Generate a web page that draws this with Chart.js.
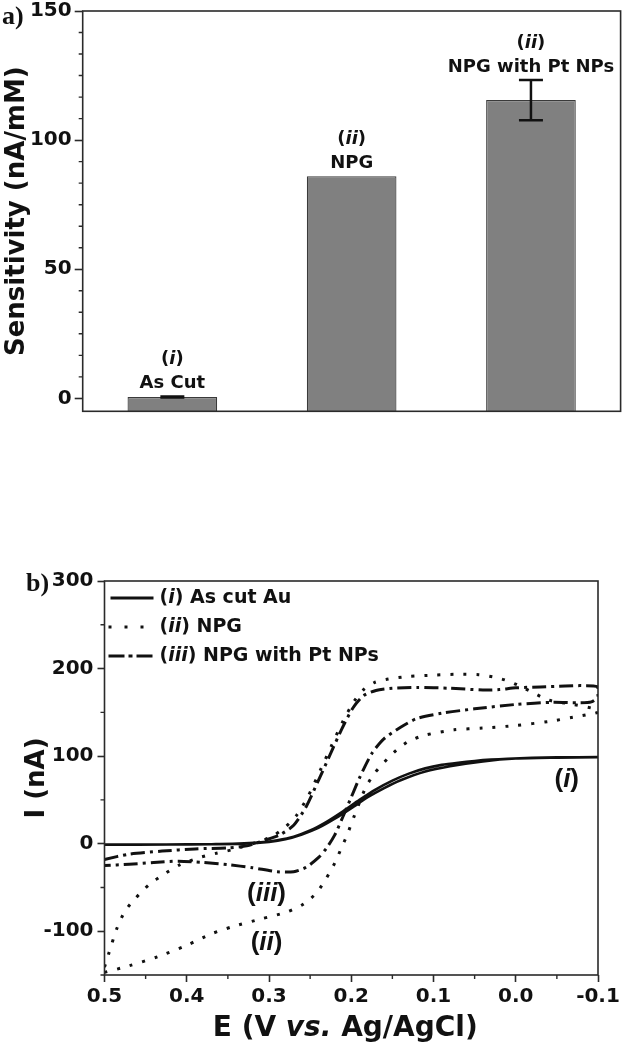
<!DOCTYPE html>
<html>
<head>
<meta charset="utf-8">
<script src="https://cdn.jsdelivr.net/npm/chart.js@4.4.1/dist/chart.umd.min.js"></script>
<style>
  html, body { margin: 0; padding: 0; background: #fff; }
  body { width: 623px; height: 1050px; position: relative; overflow: hidden; }
  .panel { position: absolute; left: 0; width: 623px; }
  #panelA { top: 0; height: 440px; }
  #panelB { top: 540px; height: 510px; }
</style>
</head>
<body>
<div class="panel" id="panelA"><canvas id="chartA"></canvas></div>
<div class="panel" id="panelB"><canvas id="chartB"></canvas></div>
<script>
// panel a - sensitivity of the three electrodes
const groups = ['As Cut', 'NPG', 'NPG with Pt NPs'];
const groupTags = ['i', 'ii', 'ii'];
const sensitivity = [0.5, 86, 115.5];
const sensError = [0.2, 0, 7.8];
const sensTicks = [0, 50, 100, 150];

// panel b - cyclic voltammograms, forward sweep then reverse sweep
const E_i_fwd = [0.50, 0.45, 0.40, 0.36, 0.33, 0.31, 0.29, 0.27, 0.25, 0.23, 0.21, 0.19, 0.17, 0.15, 0.13, 0.11, 0.09, 0.07, 0.05, 0.03, 0.01, -0.02, -0.05, -0.10];
const I_i_fwd = [-1.0, -1.0, -0.8, -0.5, 0.3, 1.5, 4, 8, 15, 25, 37, 50, 62, 72, 80, 86, 90, 92.5, 94.5, 96, 97, 98, 98.5, 98.8];
const E_i_rev = [-0.10, -0.05, 0.00, 0.04, 0.08, 0.11, 0.14, 0.16, 0.18, 0.20, 0.22, 0.24, 0.26, 0.28, 0.30, 0.33, 0.37, 0.42, 0.50];
const I_i_rev = [98.7, 98.2, 97.2, 94, 88.5, 82.5, 72.5, 63.5, 53, 40.5, 28.5, 18, 10.5, 5, 2, 0, -0.6, -0.9, -1.2];

const E_ii_fwd = [0.500, 0.495, 0.485, 0.475, 0.462, 0.446, 0.428, 0.408, 0.385, 0.364, 0.345, 0.327, 0.310, 0.295, 0.280, 0.266, 0.252, 0.238, 0.224, 0.210, 0.197, 0.185, 0.172, 0.155, 0.130, 0.100, 0.070, 0.045, 0.025, 0.010, -0.005, -0.020, -0.040, -0.070, -0.100];
const I_ii_fwd = [-141, -126, -97, -77, -62, -47, -35, -24, -16, -11, -7, -2, 3, 9, 19, 33, 55, 83, 112, 140, 162, 176, 184, 188, 191, 192.5, 193.5, 193, 190, 186, 180, 173, 164, 159, 153];
const E_ii_rev = [-0.100, -0.085, -0.070, -0.040, 0.000, 0.040, 0.075, 0.110, 0.130, 0.145, 0.160, 0.172, 0.182, 0.190, 0.197, 0.205, 0.212, 0.220, 0.230, 0.242, 0.258, 0.278, 0.310, 0.345, 0.370, 0.400, 0.435, 0.470, 0.500];
const I_ii_rev = [150, 147, 144.5, 139.5, 135, 132, 130, 124, 117, 107, 93, 80, 65, 47, 30, 10, -5, -22, -39, -56, -69, -78, -86, -95, -103, -116, -129, -139.5, -147];

const E_iii_fwd = [0.500, 0.470, 0.430, 0.390, 0.350, 0.327, 0.305, 0.287, 0.270, 0.255, 0.240, 0.226, 0.212, 0.198, 0.185, 0.170, 0.150, 0.120, 0.080, 0.040, 0.020, 0.000, -0.030, -0.060, -0.080, -0.100];
const I_iii_fwd = [-18, -12, -8.5, -6, -4.8, -2.5, 4, 10, 21, 42, 72, 101, 130, 155, 169, 175, 177.5, 178.5, 177.5, 175.5, 176, 178, 179, 180, 180.5, 179];
const E_iii_rev = [-0.100, -0.092, -0.075, -0.045, 0.000, 0.050, 0.090, 0.120, 0.140, 0.160, 0.175, 0.190, 0.200, 0.210, 0.220, 0.230, 0.240, 0.255, 0.270, 0.290, 0.320, 0.350, 0.380, 0.410, 0.440, 0.470, 0.500];
const I_iii_rev = [168, 162, 161, 161.5, 159, 154, 149, 143, 133, 120, 103, 75, 53, 31, 10, -5, -16, -27, -32, -32, -27.5, -24, -21.5, -20, -21.5, -23.5, -25];

const currentTicks = [-100, 0, 100, 200, 300];
const potentialTicks = [0.5, 0.4, 0.3, 0.2, 0.1, 0.0, -0.1];
const seriesNames = ['As cut Au', 'NPG', 'NPG with Pt NPs'];
const seriesTags = ['i', 'ii', 'iii'];

const SANS = '"DejaVu Sans", sans-serif';
const ARIAL = '"Liberation Sans", Arial, sans-serif';
const SERIF = '"Liberation Serif", "Times New Roman", serif';
const INK = '#111';
const AXIS = '#2a2a2a';

Chart.defaults.font.family = SANS;
Chart.defaults.font.weight = 'bold';
Chart.defaults.color = INK;

// text made of plain and italic pieces
function richText(ctx, parts, x, y, size, family, align) {
    const fontOf = it => (it ? 'italic ' : '') + 'bold ' + size + 'px ' + family;
    let w = 0;
    parts.forEach(([t, it]) => { ctx.font = fontOf(it); w += ctx.measureText(t).width; });
    let cx = align === 'center' ? x - w / 2 : x;
    ctx.textAlign = 'left';
    ctx.textBaseline = 'middle';
    parts.forEach(([t, it]) => {
        ctx.font = fontOf(it);
        ctx.fillText(t, cx, y);
        cx += ctx.measureText(t).width;
    });
}
const tag = r => [['(', false], [r, true], [')', false]];

function toPoints(E, I) {
    return E.map((e, k) => ({ x: e, y: I[k] }));
}

// box round the plot plus the short minor ticks
const framePlugin = {
    id: 'frame',
    afterDraw(chart, args, opts) {
        const { ctx, chartArea: a } = chart;
        ctx.save();
        ctx.strokeStyle = AXIS;
        ctx.lineWidth = 1.6;
        ctx.strokeRect(a.left, a.top, a.right - a.left, a.bottom - a.top);
        ctx.lineWidth = 1.4;
        ctx.beginPath();
        (opts.minorY || []).forEach(v => {
            const y = chart.scales.y.getPixelForValue(v);
            ctx.moveTo(a.left - opts.minorLen, y);
            ctx.lineTo(a.left, y);
        });
        (opts.minorX || []).forEach(v => {
            const x = chart.scales.x.getPixelForValue(v);
            ctx.moveTo(x, a.bottom);
            ctx.lineTo(x, a.bottom + opts.minorLen);
        });
        ctx.stroke();
        ctx.restore();
    }
};

// error bars and the labels sitting over each bar
const barNotes = {
    id: 'barNotes',
    afterDatasetsDraw(chart) {
        const { ctx } = chart;
        const yS = chart.scales.y;
        const bars = chart.getDatasetMeta(0).data;
        ctx.save();
        ctx.fillStyle = INK;
        ctx.strokeStyle = INK;
        bars.forEach((bar, k) => {
            const v = sensitivity[k], e = sensError[k];
            const x = bar.x;
            const yHi = yS.getPixelForValue(v + e);
            if (e > 0) {
                const yLo = yS.getPixelForValue(v - e);
                ctx.lineWidth = 2.5;
                ctx.beginPath();
                ctx.moveTo(x, yHi); ctx.lineTo(x, yLo);
                ctx.moveTo(x - 12, yHi); ctx.lineTo(x + 12, yHi);
                ctx.moveTo(x - 12, yLo); ctx.lineTo(x + 12, yLo);
                ctx.stroke();
            }
            richText(ctx, [[groups[k], false]], x, yHi - 13, 18, SANS, 'center');
            richText(ctx, tag(groupTags[k]), x, yHi - 37, 18, SANS, 'center');
        });
        richText(ctx, [['a)', false]], 2, 17, 26, SERIF, 'left');
        ctx.restore();
    }
};

const dashes = [[], [3, 10], [14, 5, 3, 5]];
const legendDashes = [[], [3, 13], [16, 4, 4, 4]];

// legend, curve tags and axis title of panel b
const cvNotes = {
    id: 'cvNotes',
    afterDraw(chart) {
        const { ctx, chartArea: a } = chart;
        const xS = chart.scales.x, yS = chart.scales.y;
        ctx.save();
        ctx.fillStyle = INK;
        ctx.strokeStyle = INK;
        seriesNames.forEach((name, k) => {
            const y = a.top + 17 + k * 29;
            ctx.lineWidth = 3;
            ctx.setLineDash(legendDashes[k]);
            ctx.beginPath();
            ctx.moveTo(a.left + (k === 0 ? 6 : 4), y);
            ctx.lineTo(a.left + 49, y);
            ctx.stroke();
            ctx.setLineDash([]);
            richText(ctx, tag(seriesTags[k]).concat([[' ' + name, false]]), a.left + 55, y, 19, SANS, 'left');
        });
        const tags = [['i', -0.062, 73], ['iii', 0.303, -57], ['ii', 0.303, -113]];
        tags.forEach(([t, e, i]) => {
            richText(ctx, tag(t), xS.getPixelForValue(e), yS.getPixelForValue(i), 26, ARIAL, 'center');
        });
        richText(ctx, [['b)', false]], 26, 44, 26, SERIF, 'left');
        richText(ctx, [['E (V ', false], ['vs.', true], [' Ag/AgCl)', false]],
            (a.left + a.right) / 2 - 6, chart.height - 21, 28, SANS, 'center');
        ctx.restore();
    }
};

new Chart(document.getElementById('chartA'), {
    type: 'bar',
    data: {
        labels: groups,
        datasets: [{
            data: sensitivity,
            base: -5,
            backgroundColor: '#808080',
            borderColor: '#3a3a3a',
            borderWidth: 1.2,
            barPercentage: 0.5,
            categoryPercentage: 1.0
        }]
    },
    options: {
        responsive: true,
        maintainAspectRatio: false,
        animation: false,
        layout: { padding: { left: 0, top: 11, right: 2.4, bottom: 28.7 } },
        plugins: {
            legend: { display: false },
            tooltip: { enabled: false },
            frame: { minorLen: 4, minorY: [1, 2, 3, 4, 5, 7, 8, 9, 10, 11, 13, 14, 15, 16, 17].map(k => k * 50 / 6) }
        },
        scales: {
            x: { display: false },
            y: {
                min: -5,
                max: 150,
                afterBuildTicks: s => { s.ticks = sensTicks.map(v => ({ value: v })); },
                afterFit: s => { s.width = 82.7; s.paddingTop = 0; s.paddingBottom = 0; },
                grid: { drawOnChartArea: false, drawTicks: true, tickLength: 8, tickColor: AXIS, tickWidth: 1.6 },
                border: { display: false },
                ticks: { padding: 3, color: INK, font: { size: 20, weight: 'bold' } },
                title: {
                    display: true,
                    text: 'Sensitivity (nA/mM)',
                    color: INK,
                    padding: { top: 1.5, bottom: 0 },
                    font: { size: 26, weight: 'bold' }
                }
            }
        }
    },
    plugins: [framePlugin, barNotes]
});

new Chart(document.getElementById('chartB'), {
    type: 'scatter',
    data: {
        datasets: [
            { data: toPoints(E_i_fwd.concat(E_i_rev), I_i_fwd.concat(I_i_rev)), borderDash: dashes[0], borderWidth: 2.6 },
            { data: toPoints(E_ii_fwd.concat(E_ii_rev), I_ii_fwd.concat(I_ii_rev)), borderDash: dashes[1], borderWidth: 3 },
            { data: toPoints(E_iii_fwd.concat(E_iii_rev), I_iii_fwd.concat(I_iii_rev)), borderDash: dashes[2], borderWidth: 3 }
        ].map(d => Object.assign(d, {
            showLine: true,
            pointRadius: 0,
            borderColor: INK,
            backgroundColor: INK,
            tension: 0.25
        }))
    },
    options: {
        responsive: true,
        maintainAspectRatio: false,
        animation: false,
        layout: { padding: { left: 22, top: 41, right: 25, bottom: 0 } },
        plugins: {
            legend: { display: false },
            tooltip: { enabled: false },
            frame: {
                minorLen: 4,
                minorY: [-150, -50, 50, 150, 250],
                minorX: [0.45, 0.35, 0.25, 0.15, 0.05, -0.05]
            }
        },
        scales: {
            x: {
                type: 'linear',
                reverse: true,
                min: -0.1,
                max: 0.5,
                afterBuildTicks: s => { s.ticks = potentialTicks.map(v => ({ value: v })); },
                afterFit: s => { s.height = 75; s.paddingLeft = 0; s.paddingRight = 0; },
                grid: { drawOnChartArea: false, drawTicks: true, tickLength: 7, tickColor: AXIS, tickWidth: 1.6 },
                border: { display: false },
                ticks: {
                    autoSkip: false,
                    maxRotation: 0,
                    padding: 3,
                    color: INK,
                    font: { size: 20, weight: 'bold' },
                    callback: v => v.toFixed(1)
                }
            },
            y: {
                min: -150,
                max: 300,
                afterBuildTicks: s => { s.ticks = currentTicks.map(v => ({ value: v })); },
                afterFit: s => { s.width = 82.5; s.paddingTop = 0; s.paddingBottom = 0; },
                grid: { drawOnChartArea: false, drawTicks: true, tickLength: 7, tickColor: AXIS, tickWidth: 1.6 },
                border: { display: false },
                ticks: { padding: 4, color: INK, font: { size: 20, weight: 'bold' } },
                title: {
                    display: true,
                    text: 'I (nA)',
                    color: INK,
                    padding: { top: 0, bottom: 0 },
                    font: { size: 26, weight: 'bold' }
                }
            }
        }
    },
    plugins: [framePlugin, cvNotes]
});
</script>
</body>
</html>
